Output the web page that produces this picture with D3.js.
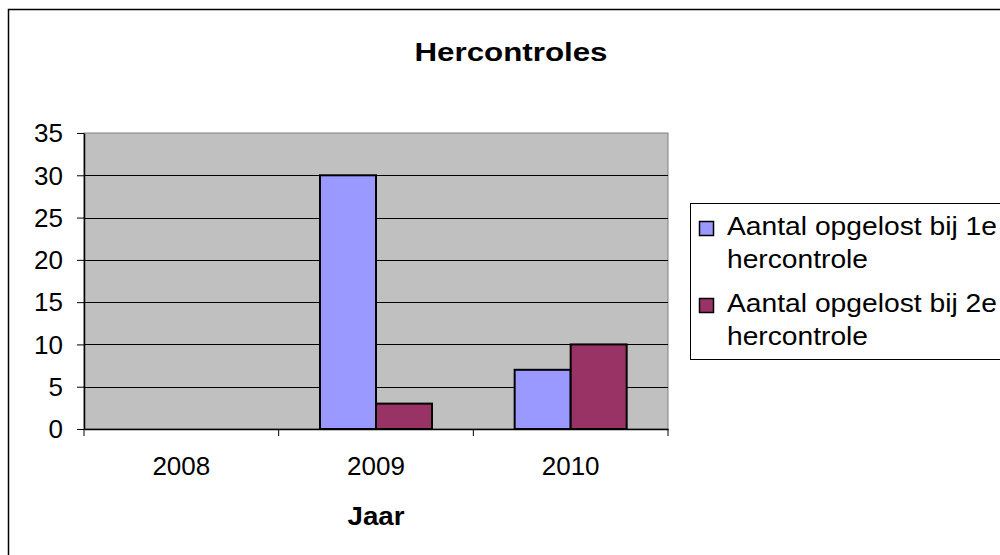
<!DOCTYPE html>
<html>
<head>
<meta charset="utf-8">
<script src="https://d3js.org/d3.v7.min.js"></script>
<style>
  body { margin: 0; background: #fff; }
  svg { display: block; font-family: "Liberation Sans", Arial, sans-serif; }
</style>
</head>
<body>
<svg width="1000" height="555"></svg>
<script>
// data
const years = ["2008", "2009", "2010"];
const seriesNames = ["Aantal opgelost bij 1e hercontrole", "Aantal opgelost bij 2e hercontrole"];
const eerste = [0, 30, 7];
const tweede = [0, 3, 10];
const yTicks = [0, 5, 10, 15, 20, 25, 30, 35];
const colors = ["#9999FF", "#993366"];

const svg = d3.select("svg");

// outer chart border (cropped on right/bottom)
svg.append("rect").attr("x", 8.5).attr("y", 9.5).attr("width", 1010).attr("height", 560)
  .attr("fill", "none").attr("stroke", "#000").attr("stroke-width", 1.5);

const plot = {left: 84, right: 668, top: 133, bottom: 429};

const x0 = d3.scaleBand().domain(years).range([plot.left, plot.right]).paddingInner(0);
const x1 = d3.scaleBand().domain([0, 1]).range([0, x0.bandwidth()]).paddingInner(0).paddingOuter(0.738);
const y = d3.scaleLinear().domain([0, 35]).range([plot.bottom, plot.top]);

// plot background
svg.append("rect").attr("x", plot.left).attr("y", plot.top)
  .attr("width", plot.right - plot.left).attr("height", plot.bottom - plot.top)
  .attr("fill", "#C0C0C0").attr("stroke", "#808080").attr("stroke-width", 1);

// gridlines
svg.append("g").selectAll("line").data(yTicks.filter(d => d > 0 && d < 35)).join("line")
  .attr("x1", plot.left).attr("x2", plot.right)
  .attr("y1", d => Math.round(y(d)) + 0.5).attr("y2", d => Math.round(y(d)) + 0.5)
  .attr("stroke", "#000").attr("stroke-width", 1);

// bars
const barData = [];
years.forEach((yr, i) => {
  [eerste[i], tweede[i]].forEach((v, s) => barData.push({yr, s, v}));
});
svg.append("g").selectAll("rect").data(barData.filter(d => d.v > 0)).join("rect")
  .attr("x", d => x0(d.yr) + x1(d.s))
  .attr("y", d => y(d.v))
  .attr("width", x1.bandwidth())
  .attr("height", d => y(0) - y(d.v))
  .attr("fill", d => colors[d.s])
  .attr("stroke", "#000").attr("stroke-width", 2);

// y axis
const yAxis = svg.append("g").attr("transform", `translate(${plot.left},0)`)
  .call(d3.axisLeft(y).tickValues(yTicks).tickSize(7).tickPadding(14).tickSizeOuter(0));
yAxis.select(".domain").attr("stroke", "#000").attr("stroke-width", 1.5);
yAxis.selectAll(".tick line").attr("stroke", "#000");
yAxis.selectAll(".tick text").attr("font-size", 26).attr("fill", "#000")
  .attr("font-family", "Liberation Sans, Arial, sans-serif").attr("dy", "0.34em");

// x axis
const xAxis = svg.append("g").attr("transform", `translate(0,${plot.bottom})`)
  .call(d3.axisBottom(x0).tickSize(0).tickPadding(28).tickSizeOuter(0));
xAxis.select(".domain").attr("stroke", "#000").attr("stroke-width", 1.5);
xAxis.selectAll(".tick text").attr("font-size", 26).attr("fill", "#000")
  .attr("font-family", "Liberation Sans, Arial, sans-serif");
// category boundary ticks
svg.append("g").selectAll("line").data(years.concat(["end"])).join("line")
  .attr("x1", (d, i) => i < years.length ? x0(d) : plot.right)
  .attr("x2", (d, i) => i < years.length ? x0(d) : plot.right)
  .attr("y1", plot.bottom).attr("y2", plot.bottom + 7)
  .attr("stroke", "#000");

// title
svg.append("text").attr("x", 511).attr("y", 61).attr("text-anchor", "middle")
  .attr("font-size", 25).attr("font-weight", "bold")
  .attr("textLength", 193).attr("lengthAdjust", "spacingAndGlyphs").text("Hercontroles");

// x axis title
svg.append("text").attr("x", (plot.left + plot.right) / 2).attr("y", 525).attr("text-anchor", "middle")
  .attr("font-size", 25).attr("font-weight", "bold")
  .attr("textLength", 57).attr("lengthAdjust", "spacingAndGlyphs").text("Jaar");

// legend
const legend = svg.append("g");
legend.append("rect").attr("x", 690.5).attr("y", 203.5).attr("width", 340).attr("height", 156)
  .attr("fill", "#fff").attr("stroke", "#000").attr("stroke-width", 1);
seriesNames.forEach((name, i) => {
  const top = 221 + i * 77;
  legend.append("rect").attr("x", 699.5).attr("y", top + 0.5).attr("width", 14).attr("height", 14)
    .attr("fill", colors[i]).attr("stroke", "#000").attr("stroke-width", 1.5);
  const words = name.split(" ");
  const t = legend.append("text").attr("font-size", 26);
  t.append("tspan").attr("x", 727).attr("y", top + 14)
    .attr("textLength", 270).attr("lengthAdjust", "spacingAndGlyphs").text(words.slice(0, 4).join(" "));
  t.append("tspan").attr("x", 727).attr("y", top + 47)
    .attr("textLength", 141).attr("lengthAdjust", "spacingAndGlyphs").text(words.slice(4).join(" "));
});
</script>
</body>
</html>
